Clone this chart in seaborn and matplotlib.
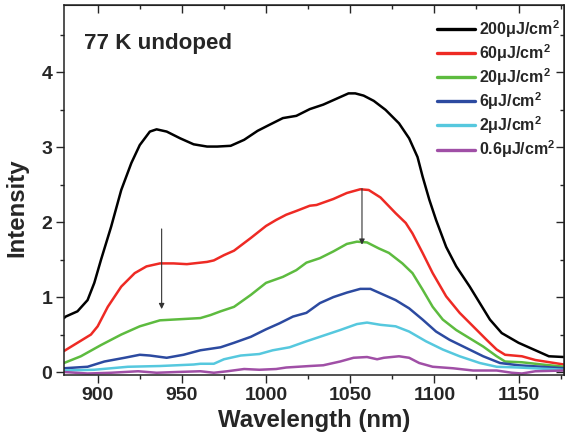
import matplotlib
matplotlib.use("Agg")
import matplotlib.pyplot as plt
import seaborn as sns
import pandas as pd
from matplotlib.ticker import MultipleLocator

sns.set_style("ticks")
plt.rcParams['font.family'] = ['Liberation Sans', 'DejaVu Sans']
plt.rcParams['font.weight'] = 'bold'
plt.rcParams['mathtext.fontset'] = 'custom'
plt.rcParams['mathtext.bf'] = 'Liberation Sans:bold'
plt.rcParams['mathtext.rm'] = 'Liberation Sans:bold'
plt.rcParams['lines.solid_joinstyle'] = 'round'

labels = ["200μJ/cm$^2$", "60μJ/cm$^2$", "20μJ/cm$^2$", "6μJ/cm$^2$", "2μJ/cm$^2$", "0.6μJ/cm$^2$"]
colors = ["#000000", "#ee2a24", "#5dbb3f", "#2c4aa0", "#56c8de", "#a04fa6"]

wl_200 = [880, 881, 888, 894, 898, 902, 908, 914, 920, 925, 931, 935, 941, 949, 957, 965, 971, 979, 987, 995, 1002, 1010, 1018, 1026, 1034, 1042, 1049, 1053, 1058, 1064, 1071, 1079, 1085, 1090, 1093, 1097, 1101, 1107, 1113, 1121, 1127, 1133, 1140, 1150, 1160, 1168, 1177]
int_200 = [0.72, 0.74, 0.81, 0.96, 1.19, 1.50, 1.94, 2.43, 2.79, 3.03, 3.21, 3.24, 3.21, 3.12, 3.04, 3.01, 3.01, 3.02, 3.10, 3.22, 3.30, 3.39, 3.42, 3.51, 3.57, 3.65, 3.72, 3.72, 3.69, 3.62, 3.50, 3.32, 3.12, 2.87, 2.61, 2.30, 2.03, 1.67, 1.41, 1.14, 0.92, 0.70, 0.52, 0.39, 0.29, 0.21, 0.20]

wl_60 = [880, 888, 896, 900, 906, 914, 922, 929, 937, 945, 953, 961, 965, 969, 975, 981, 991, 1000, 1006, 1012, 1018, 1026, 1030, 1040, 1048, 1056, 1061, 1068, 1077, 1083, 1087, 1093, 1099, 1107, 1115, 1123, 1131, 1137, 1142, 1152, 1160, 1177]
int_60 = [0.28, 0.39, 0.50, 0.61, 0.87, 1.14, 1.32, 1.41, 1.45, 1.45, 1.44, 1.46, 1.47, 1.49, 1.56, 1.62, 1.79, 1.95, 2.03, 2.10, 2.15, 2.22, 2.23, 2.31, 2.39, 2.44, 2.43, 2.33, 2.12, 1.99, 1.85, 1.59, 1.32, 1.01, 0.79, 0.61, 0.43, 0.30, 0.23, 0.21, 0.16, 0.10]

wl_20 = [880, 890, 902, 914, 925, 937, 953, 961, 967, 973, 981, 991, 1000, 1010, 1018, 1024, 1032, 1040, 1048, 1054, 1060, 1067, 1073, 1081, 1087, 1093, 1099, 1105, 1113, 1121, 1129, 1137, 1142, 1152, 1164, 1177]
int_20 = [0.12, 0.21, 0.36, 0.50, 0.61, 0.69, 0.71, 0.72, 0.76, 0.81, 0.87, 1.03, 1.19, 1.27, 1.36, 1.46, 1.52, 1.61, 1.71, 1.74, 1.73, 1.65, 1.59, 1.45, 1.32, 1.10, 0.87, 0.70, 0.56, 0.45, 0.34, 0.21, 0.14, 0.13, 0.10, 0.07]

wl_6 = [880, 894, 904, 916, 925, 931, 941, 951, 961, 967, 973, 981, 991, 1000, 1008, 1016, 1024, 1032, 1040, 1048, 1056, 1062, 1069, 1077, 1085, 1093, 1101, 1109, 1119, 1129, 1139, 1150, 1177]
int_6 = [0.05, 0.07, 0.14, 0.19, 0.23, 0.22, 0.19, 0.23, 0.29, 0.31, 0.33, 0.39, 0.47, 0.57, 0.65, 0.74, 0.79, 0.92, 1.00, 1.06, 1.11, 1.11, 1.04, 0.96, 0.85, 0.70, 0.54, 0.43, 0.32, 0.21, 0.12, 0.09, 0.05]

wl_2 = [880, 898, 918, 937, 957, 961, 969, 975, 985, 996, 1004, 1014, 1024, 1036, 1044, 1054, 1060, 1068, 1077, 1085, 1095, 1105, 1115, 1127, 1137, 1150, 1177]
int_2 = [0.02, 0.03, 0.07, 0.08, 0.10, 0.11, 0.11, 0.17, 0.22, 0.24, 0.29, 0.33, 0.41, 0.50, 0.56, 0.64, 0.66, 0.63, 0.61, 0.54, 0.41, 0.30, 0.21, 0.12, 0.07, 0.06, 0.03]

wl_06 = [880, 894, 908, 924, 935, 947, 961, 969, 977, 987, 996, 1006, 1012, 1026, 1034, 1044, 1052, 1060, 1066, 1070, 1079, 1085, 1091, 1099, 1111, 1123, 1137, 1146, 1152, 1160, 1177]
int_06 = [0.00, -0.02, -0.01, 0.01, -0.01, 0.00, 0.01, -0.01, 0.01, 0.04, 0.03, 0.04, 0.06, 0.08, 0.09, 0.14, 0.19, 0.20, 0.17, 0.19, 0.21, 0.19, 0.12, 0.07, 0.05, 0.02, 0.02, -0.01, -0.02, 0.01, 0.02]

series = [(wl_200, int_200), (wl_60, int_60), (wl_20, int_20), (wl_6, int_6), (wl_2, int_2), (wl_06, int_06)]
frames = []
for lab, (w, i) in zip(labels, series):
    frames.append(pd.DataFrame({"Wavelength": w, "Intensity": i, "series": lab}))
df = pd.concat(frames, ignore_index=True)

fig = plt.figure(figsize=(5.65, 4.43), dpi=100)
ax = fig.add_axes([64/565, 1-375/443, (564-64)/565, (375-5)/443])

sns.lineplot(data=df, x="Wavelength", y="Intensity", hue="series", hue_order=labels,
             palette=colors, estimator=None, sort=False, lw=1.8, ax=ax)

ax.set_xlim(880, 1177)
ax.set_ylim(-0.04, 4.9)
ax.xaxis.set_major_locator(MultipleLocator(50))
ax.xaxis.set_minor_locator(MultipleLocator(25))
ax.yaxis.set_major_locator(MultipleLocator(1))
ax.yaxis.set_minor_locator(MultipleLocator(0.5))
ax.tick_params(which='major', direction='out', length=5.5, width=1.0, labelsize=14, pad=3)
ax.tick_params(which='minor', direction='out', length=3, width=1.0)
for s in ax.spines.values():
    s.set_linewidth(1.1)
    s.set_color('#222222')
for lab in ax.get_xticklabels() + ax.get_yticklabels():
    lab.set_fontweight('bold')

secx = ax.secondary_xaxis('top')
secx.xaxis.set_major_locator(MultipleLocator(50))
secx.xaxis.set_minor_locator(MultipleLocator(25))
secx.tick_params(which='major', direction='in', length=5.5, width=1.0, labeltop=False)
secx.tick_params(which='minor', direction='in', length=3, width=1.0)
secy = ax.secondary_yaxis('right')
secy.yaxis.set_major_locator(MultipleLocator(1))
secy.yaxis.set_minor_locator(MultipleLocator(0.5))
secy.tick_params(which='major', direction='in', length=5.5, width=1.0, labelright=False)
secy.tick_params(which='minor', direction='in', length=3, width=1.0)

ax.set_xlabel("Wavelength (nm)", fontsize=17.3, fontweight='bold', labelpad=4)
ax.set_ylabel("Intensity", fontsize=17.3, fontweight='bold')
ax.yaxis.set_label_coords(-0.072, 0.451)

ax.text(892, 4.38, "77 K undoped", fontsize=16.1, fontweight='bold', va='center', ha='left')

arrow_kw = dict(arrowstyle='-|>', color='#333333', lw=0.8, mutation_scale=8, shrinkA=0, shrinkB=0)
ax.annotate('', xy=(938, 0.84), xytext=(938, 1.91), arrowprops=arrow_kw)
ax.annotate('', xy=(1057, 1.70), xytext=(1057, 2.45), arrowprops=arrow_kw)

leg = ax.legend(loc='upper left', bbox_to_anchor=((437-64)/500, 1 - (18-5)/370),
                frameon=False, fontsize=11.5, handlelength=2.35, handletextpad=0.3,
                labelspacing=0.15, borderaxespad=0, borderpad=0)
for t in leg.get_texts():
    t.set_fontweight('bold')
for l in leg.get_lines():
    l.set_linewidth(2.4)

fig.savefig("out.png", dpi=100)
